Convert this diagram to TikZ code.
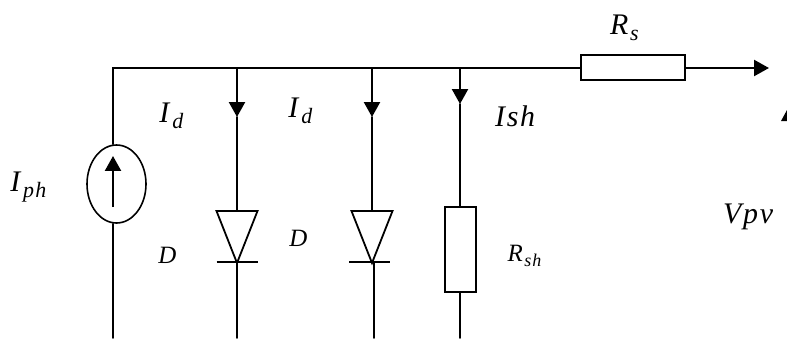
\documentclass[tikz,border=0pt]{standalone}
\usepackage{fontspec}
\setmainfont{Liberation Serif}
\newfontfamily\lblfont[ItalicFont={Liberation Serif Italic},LetterSpace=6]{Liberation Serif}
\usetikzlibrary{arrows.meta,shapes.geometric,calc}
\newcommand{\subbed}[3]{\textit{#1}\raisebox{-0.22em}{\fontsize{#3}{#3}\selectfont\textit{#2}}}
\tikzset{
  wire/.style={line width=1.7pt,black,line cap=round},
  stem/.style={line width=2.3pt,black,-{Triangle[length=15pt,width=16pt]}},
  res/.style={draw,line width=1.8pt,fill=white,inner sep=0pt,rectangle},
  src/.style={draw,line width=1.6pt,ellipse,fill=white,inner sep=0pt,minimum width=59bp,minimum height=78bp},
  diode/.style={line width=1.8pt,line join=miter},
  big/.style={inner sep=0pt,font=\lblfont\fontsize{30}{32}\selectfont},
  mid/.style={inner sep=0pt,font=\lblfont\fontsize{25}{28}\selectfont},
}
\begin{document}
\begin{tikzpicture}[x=1bp,y=-1bp]
\useasboundingbox (0,0) rectangle (787,338);
% coordinates
\coordinate (tl) at (113,68);
\coordinate (bl) at (113,338);
\coordinate (t1) at (237,68);
\coordinate (a1) at (237,117);
\coordinate (d1t) at (237,211);
\coordinate (d1b) at (237,263);
\coordinate (e1) at (237,338);
\coordinate (t2) at (372,68);
\coordinate (a2) at (372,117);
\coordinate (d2t) at (372,211);
\coordinate (d2b) at (372,263);
\coordinate (f2) at (374,263);
\coordinate (e2) at (374,338);
\coordinate (t3) at (460,68);
\coordinate (a3) at (460,104);
\coordinate (e3) at (460,338);
\coordinate (out) at (769,68);
% components
\node[res,minimum width=104bp,minimum height=25bp] (rs) at (633,67.5) {};
\node[res,minimum width=31bp,minimum height=85bp] (rsh) at (460.5,249.5) {};
\node[src] (src) at (116.5,184) {};
\coordinate (ia) at (113,207);
\coordinate (ib) at (113,156);
% wires
\draw[wire] (bl) -- (src.south -| bl);
\draw[wire] (src.north -| tl) -- (tl) -- (rs.west |- tl);
\draw[stem] (rs.east |- out) -- (out);
\draw[stem] (ia) -- (ib);
\draw[stem] (t1) -- (a1);
\draw[wire] (a1) -- (d1t);
\draw[stem] (t2) -- (a2);
\draw[wire] (a2) -- (d2t);
\draw[stem] (t3) -- (a3);
\draw[wire] (a3) -- (rsh.north -| a3);
\draw[wire] (rsh.south -| e3) -- (e3);
\draw[wire] (d1b) -- (e1);
\draw[wire] (f2) -- (e2);
% diodes
\draw[diode] ($(d1t)+(-20.5,0)$) -- ($(d1t)+(20.5,0)$) -- (d1b) -- cycle;
\draw[diode] ($(d1b)+(-20.5,-1)$) -- ($(d1b)+(20.5,-1)$);
\draw[diode] ($(d2t)+(-20.5,0)$) -- ($(d2t)+(20.5,0)$) -- (d2b) -- cycle;
\draw[diode] ($(d2b)+(-23,-1)$) -- ($(d2b)+(18,-1)$);
% clipped arrowhead at the right edge
\fill (781,121) -- (787,110) -- (787,121) -- cycle;
% labels
\node[big] (l1) at (172,116) {\subbed{I}{d}{22}};
\node[big] (l2) at (301,111) {\subbed{I}{d}{22}};
\node[big] (l3) at (29,187) {\subbed{I}{ph}{22}};
\node[mid] (l4) at (168,255) {\textit{D}};
\node[mid] (l5) at (299,238) {\textit{D}};
\node[big] (l6) at (516,116) {\textit{Ish}};
\node[big] (l7) at (625,28) {\subbed{R}{s}{22}};
\node[mid] (l8) at (525,256) {\subbed{R}{sh}{18}};
\node[big] (l9) at (749,217) {\textit{Vpv}};
\end{tikzpicture}
\end{document}
